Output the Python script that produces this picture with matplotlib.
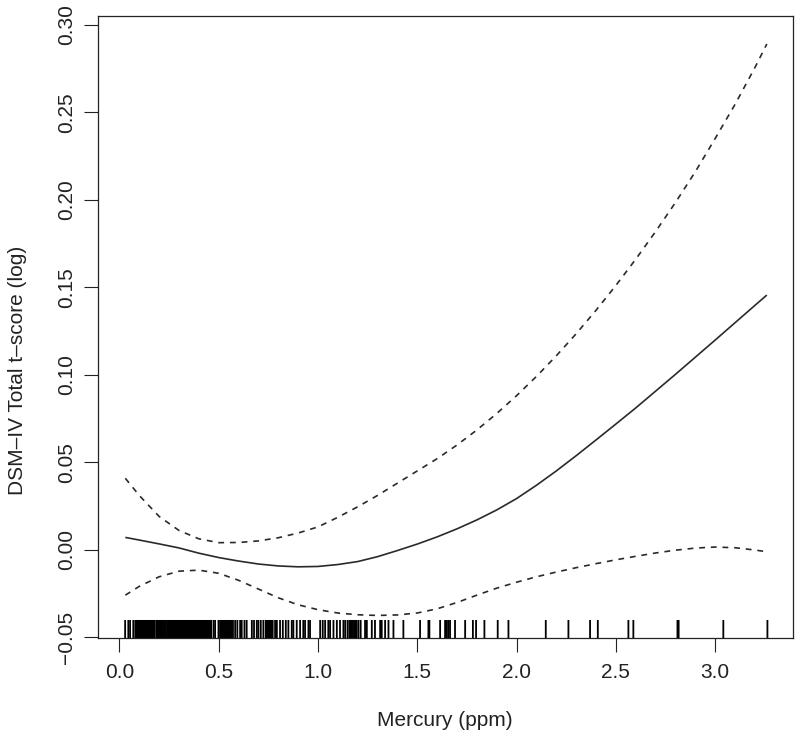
import matplotlib
matplotlib.use("Agg")
import matplotlib.pyplot as plt
import matplotlib.transforms as mtransforms

plt.rcParams['font.family'] = ['Liberation Sans', 'DejaVu Sans']

# ---- data ----
x_grid = [0.03, 0.1, 0.2, 0.3, 0.4, 0.5, 0.6, 0.7, 0.8, 0.9, 1.0, 1.1, 1.2, 1.3,
          1.4, 1.5, 1.6, 1.7, 1.8, 1.9, 2.0, 2.1, 2.2, 2.3, 2.4, 2.5, 2.6, 2.7,
          2.8, 2.9, 3.0, 3.1, 3.2, 3.26]
fit = [0.0070, 0.0055, 0.0033, 0.0010, -0.0020, -0.0045, -0.0065, -0.0082,
       -0.0093, -0.0098, -0.0096, -0.0085, -0.0068, -0.0040, -0.0005, 0.0032,
       0.0073, 0.0119, 0.0170, 0.0227, 0.0292, 0.0368, 0.0450, 0.0537, 0.0627,
       0.0718, 0.0810, 0.0906, 0.1002, 0.1100, 0.1198, 0.1297, 0.1396, 0.1455]
upper = [0.0408, 0.0310, 0.0190, 0.0110, 0.0062, 0.0040, 0.0041, 0.0050,
         0.0068, 0.0095, 0.0130, 0.0185, 0.0245, 0.0310, 0.0380, 0.0450,
         0.0520, 0.0598, 0.0684, 0.0778, 0.0880, 0.0990, 0.1108, 0.1234,
         0.1368, 0.1510, 0.1660, 0.1818, 0.1984, 0.2160, 0.2350, 0.2545,
         0.2755, 0.2890]
lower = [-0.0260, -0.0210, -0.0155, -0.0123, -0.0117, -0.0135, -0.0175,
         -0.0225, -0.0275, -0.0315, -0.0343, -0.0362, -0.0372, -0.0376,
         -0.0373, -0.0362, -0.0338, -0.0302, -0.0260, -0.0220, -0.0186,
         -0.0155, -0.0128, -0.0103, -0.0080, -0.0058, -0.0038, -0.0019,
         -0.0003, 0.0009, 0.0015, 0.0011, -0.0002, -0.0012]

rug = [0.029, 0.045, 0.054, 0.070,
       0.080, 0.085, 0.090, 0.095, 0.100, 0.105, 0.110, 0.115, 0.120, 0.125,
       0.130, 0.135, 0.140, 0.145, 0.150, 0.155, 0.160, 0.165, 0.170, 0.175,
       0.185, 0.190, 0.195, 0.200, 0.205, 0.210, 0.215, 0.220, 0.225, 0.230, 0.235,
       0.243, 0.248, 0.253, 0.258, 0.263, 0.268, 0.273, 0.278, 0.283, 0.288,
       0.293, 0.298, 0.303, 0.308, 0.313, 0.318, 0.323, 0.328, 0.333, 0.338,
       0.343, 0.348, 0.353, 0.358, 0.363, 0.368, 0.373, 0.378, 0.383, 0.388,
       0.393, 0.398, 0.403, 0.408, 0.413, 0.418, 0.423, 0.428, 0.433, 0.438,
       0.443, 0.448, 0.453, 0.457,
       0.462, 0.474, 0.482, 0.499,
       0.507, 0.512, 0.517, 0.522, 0.527, 0.532, 0.537, 0.542, 0.547, 0.552,
       0.557, 0.562, 0.567, 0.572,
       0.583, 0.594, 0.608, 0.616, 0.630, 0.641, 0.667, 0.678, 0.692, 0.700,
       0.712, 0.725, 0.737, 0.742, 0.747, 0.752, 0.757, 0.762, 0.767, 0.772,
       0.784, 0.793, 0.809, 0.823, 0.838, 0.851, 0.868, 0.876, 0.893, 0.910,
       0.926, 0.935, 0.952, 0.960, 1.011, 1.024, 1.036, 1.052, 1.061, 1.078,
       1.095, 1.111, 1.128, 1.137, 1.149, 1.158, 1.165, 1.170, 1.176, 1.182,
       1.188, 1.195, 1.204, 1.215, 1.237, 1.246, 1.271, 1.287, 1.313, 1.321,
       1.338, 1.355, 1.380, 1.430, 1.514, 1.556, 1.561, 1.615, 1.640, 1.649,
       1.657, 1.665, 1.690, 1.741, 1.780, 1.796, 1.838, 1.905, 1.959, 2.147,
       2.261, 2.370, 2.409, 2.563, 2.588, 2.810, 2.816, 3.041, 3.263]

x_ticks = [0.0, 0.5, 1.0, 1.5, 2.0, 2.5, 3.0]
x_ticklabels = ["0.0", "0.5", "1.0", "1.5", "2.0", "2.5", "3.0"]
y_ticks = [-0.05, 0.00, 0.05, 0.10, 0.15, 0.20, 0.25, 0.30]
y_ticklabels = ["\u22120.05", "0.00", "0.05", "0.10", "0.15", "0.20", "0.25", "0.30"]

# ---- figure ----
fig = plt.figure(figsize=(8.0, 7.4), dpi=100)
ax = fig.add_axes([0.1229, 0.1378, 0.9913 - 0.1229, 0.9784 - 0.1378])

line_col = '#2a2a2a'
ax.plot(x_grid, fit, color=line_col, lw=1.2, solid_capstyle='butt')
ax.plot(x_grid, upper, color=line_col, lw=1.2, dashes=(3.5, 3.5))
ax.plot(x_grid, lower, color=line_col, lw=1.2, dashes=(3.5, 3.5))

trans = mtransforms.blended_transform_factory(ax.transData, ax.transAxes)
rl = ax.vlines(rug, 0, 0.029, transform=trans, color='black', lw=1.3)
rl.set_snap(False)

ax.set_xlim(-0.106, 3.392)
ax.set_ylim(-0.0505, 0.305)

ax.set_xticks(x_ticks)
ax.set_xticklabels(x_ticklabels)
ax.set_yticks(y_ticks)
ax.set_yticklabels(y_ticklabels, rotation=90, va='center')

for s in ax.spines.values():
    s.set_linewidth(0.9)
    s.set_color('#222222')
ax.tick_params(axis='both', direction='out', length=10, width=0.8,
               colors='#222222', labelsize=15, labelcolor='#222222')
ax.tick_params(axis='x', pad=8)
ax.tick_params(axis='y', pad=6)

fig.text(0.556, 0.027, "Mercury (ppm)", ha='center', va='center',
         fontsize=15, color='#222222')
fig.text(0.022, 0.5, "DSM\u2013IV Total t\u2013score (log)", ha='center',
         va='center', rotation=90, fontsize=15, color='#222222')

fig.savefig("out.png", dpi=100)
